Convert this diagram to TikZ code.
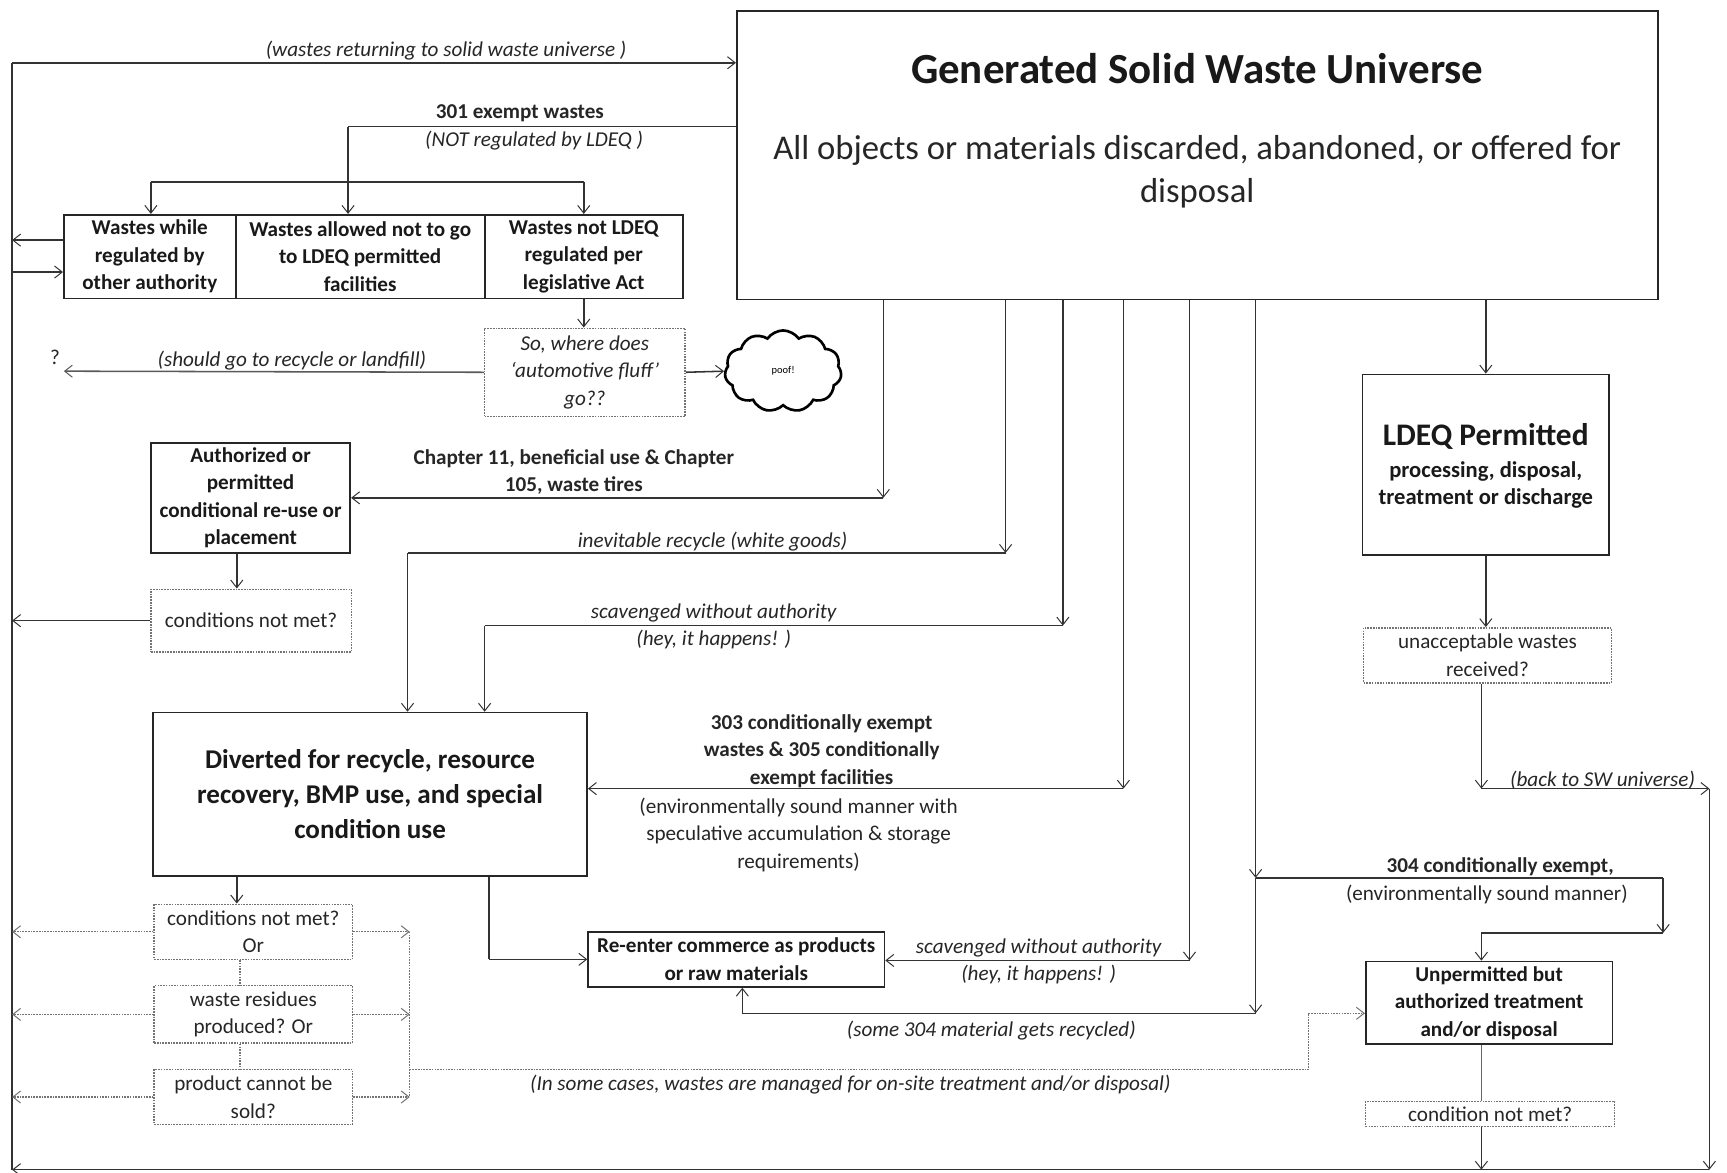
\documentclass[tikz,border=0pt]{standalone}
\usepackage{fontspec}
\setmainfont{Carlito}
\usetikzlibrary{arrows.meta,shapes.symbols}
\newcommand\myfs[2]{\fontsize{#1}{#2}\selectfont}
\begin{document}
\begin{tikzpicture}[x=1pt,y=-1pt,
  ln/.style={draw=black!80, line width=1.4pt},
  arr/.style={ln, -{Straight Barb[length=7pt,width=11pt,line width=0.9pt]}},
  dln/.style={draw=black!55, line width=1.2pt, dash pattern=on 1.5pt off 1pt},
  darr/.style={dln, -{Straight Barb[length=7pt,width=11pt,line width=0.9pt]}},
  box/.style={draw=black!85, line width=1.6pt, align=center, inner sep=0pt, text=black!90, font=\bfseries\myfs{19.2}{25}},
  dbox/.style={draw=black!55, line width=1.3pt, dash pattern=on 1.5pt off 1pt, align=center, inner sep=0pt, text=black!85, font=\myfs{19.2}{25}},
  lab/.style={align=center, inner sep=0pt, text=black!85, font=\myfs{19.2}{25}},
  ilab/.style={lab, font=\itshape\myfs{19.2}{25}},
  blab/.style={lab, font=\bfseries\myfs{19.2}{25}},
]
\useasboundingbox (0,0) rectangle (1568,1065);
\fill[white] (0,0) rectangle (1568,1065);
% nodes
\node[box, minimum width=836, minimum height=262] (univ) at (1087,141) {};
\node[lab, text=black!90, font=\bfseries\myfs{39}{44}] (t1) at (1087,62) {Generated Solid Waste Universe};
\node[lab, font=\myfs{31.5}{39}] (t2) at (1087,156) {All objects or materials discarded, abandoned, or offered for\\disposal};
\node[box, minimum width=156, minimum height=76] (w1) at (136,233) {Wastes while\\regulated by\\other authority};
\node[box, minimum width=226, minimum height=76] (w2) at (327,233) {Wastes allowed not to go\\to LDEQ permitted\\facilities};
\node[box, minimum width=180, minimum height=76] (w3) at (530,233) {Wastes not LDEQ\\regulated per\\legislative Act};
\node[dbox, font=\itshape\myfs{19.2}{25}, minimum width=182, minimum height=80] (fluff) at (531,338) {So, where does\\`automotive fluff'\\go??};
\node[cloud, cloud puffs=11, cloud puff arc=110, aspect=1.5, draw=black, line width=2.4pt, minimum width=106, minimum height=74, font=\myfs{9.5}{10}, inner sep=0pt] (poof) at (711,337) {poof!};
\node[box, minimum width=181, minimum height=100] (auth) at (227.5,452) {Authorized or\\permitted\\conditional re-use or\\placement};
\node[dbox, minimum width=182, minimum height=57] (cnm1) at (228,563.5) {conditions not met?};
\node[box, font=\bfseries\myfs{24.6}{31.5}, minimum width=394, minimum height=148] (div) at (336,721) {Diverted for recycle, resource\\recovery, BMP use, and special\\condition use};
\node[dbox, minimum width=180, minimum height=50] (cnm2) at (230,846) {conditions not met?\\Or};
\node[dbox, minimum width=180, minimum height=52] (resid) at (230,921) {waste residues\\produced? Or};
\node[dbox, minimum width=180, minimum height=50] (sold) at (230,996) {product cannot be\\sold?};
\node[box, minimum width=269, minimum height=50] (reent) at (668.5,871) {Re-enter commerce as products\\or raw materials};
\node[box, minimum width=224, minimum height=164] (ldeq) at (1349,422) {};
\node[lab, text=black!90, font=\bfseries\myfs{28.5}{32}] (ldeqt) at (1349,396) {LDEQ Permitted};
\node[lab, text=black!90, font=\bfseries\myfs{20.5}{25}] (ldeqs) at (1349,440.5) {processing, disposal,\\treatment or discharge};
\node[dbox, minimum width=225, minimum height=50] (unacc) at (1350.5,595) {unacceptable wastes\\received?};
\node[box, minimum width=224, minimum height=75] (unperm) at (1352,910.5) {Unpermitted but\\authorized treatment\\and/or disposal};
\node[dbox, minimum width=226, minimum height=23] (cond) at (1353,1011.5) {condition not met?};
% coordinates
\coordinate (TL) at (11,57);
\coordinate (BL) at (11,1062);
\coordinate (BR) at (1552,1062);
\coordinate (RT) at (1552,716);
\coordinate (k301) at (316,115);
\coordinate (kbr1) at (137,165);
\coordinate (kbr2) at (530,165);
\coordinate (kw1a) at (11,218);
\coordinate (kw1b) at (11,247);
\coordinate (kq) at (58,337);
\coordinate (k802) at (802,452);
\coordinate (k913) at (913,502);
\coordinate (k913b) at (370,502);
\coordinate (k965) at (965,568);
\coordinate (k965b) at (440,568);
\coordinate (k1020) at (1020,716);
\coordinate (k1080) at (1080,872);
\coordinate (k1140a) at (1140,797);
\coordinate (k1140b) at (1140,920);
\coordinate (k674) at (674,920);
\coordinate (k1510a) at (1510,797);
\coordinate (k1510b) at (1510,847);
\coordinate (k1345) at (1345,847);
\coordinate (kback) at (1345,716);
\coordinate (ka) at (215,520);
\coordinate (kb) at (218,900);
\coordinate (kre) at (444,871);
\coordinate (kd1) at (372,846);
\coordinate (kd2) at (372,996);
\coordinate (kd3) at (372,971);
\coordinate (kd4) at (1188,971);
\coordinate (kd5) at (1188,920);
% outer loop
\draw[arr] (TL) -- (univ.west |- TL);
\draw[ln] (BL) -- (TL);
\draw[arr] (BR) -- (BL);
% 301
\draw[ln] (univ.west |- k301) -- (k301);
\draw[arr] (k301) -- (w2.north -| k301);
\draw[ln] (kbr1) -- (kbr2);
\draw[arr] (kbr1) -- (w1.north -| kbr1);
\draw[arr] (kbr2) -- (w3.north -| kbr2);
\draw[arr] (w1.west |- kw1a) -- (kw1a);
\draw[arr] (kw1b) -- (w1.west |- kw1b);
\draw[arr] (w3.south) -- (fluff.north -| w3.south);
\draw[arr, draw=black!65] (fluff.west) -- (kq);
\draw[arr] (fluff.east) -- (poof.west);
% from universe
\draw[arr] (univ.south -| k802) -- (k802);
\draw[arr] (k802) -- (auth.east |- k802);
\draw[arr] (univ.south -| k913) -- (k913);
\draw[ln] (k913) -- (k913b);
\draw[arr] (k913b) -- (div.north -| k913b);
\draw[arr] (univ.south -| k965) -- (k965);
\draw[ln] (k965) -- (k965b);
\draw[arr] (k965b) -- (div.north -| k965b);
\draw[arr] (univ.south -| k1020) -- (k1020);
\draw[arr] (k1020) -- (div.east |- k1020);
\draw[arr] (univ.south -| k1080) -- (k1080);
\draw[arr] (k1080) -- (reent.east |- k1080);
\draw[arr] (univ.south -| k1140a) -- (k1140a);
\draw[arr] (k1140a) -- (k1140b);
\draw[ln] (k1140b) -- (k674);
\draw[arr] (k674) -- (reent.south -| k674);
\draw[ln] (k1140a) -- (k1510a);
\draw[arr] (k1510a) -- (k1510b);
\draw[ln] (k1510b) -- (k1345);
\draw[arr] (k1345) -- (unperm.north -| k1345);
\draw[arr] (univ.south -| ldeq.north) -- (ldeq.north);
\draw[arr] (ldeq.south) -- (unacc.north -| ldeq.south);
\draw[arr] (unacc.south -| kback) -- (kback);
\draw[arr] (kback) -- (RT);
\draw[arr] (RT) -- (BR);
\draw[ln, line width=0.8pt, draw=black!60] (unperm.south -| kback) -- (cond.north -| kback);
\draw[arr] (cond.south -| kback) -- (kback |- BR);
% left column
\draw[arr] (auth.south -| ka) -- (cnm1.north -| ka);
\draw[arr] (cnm1.west) -- (cnm1.west -| TL);
\draw[arr] (div.south -| ka) -- (cnm2.north -| ka);
\draw[dln] (cnm2.south -| kb) -- (resid.north -| kb);
\draw[dln] (resid.south -| kb) -- (sold.north -| kb);
\draw[ln] (div.south -| kre) -- (kre);
\draw[arr] (kre) -- (reent.west |- kre);
\draw[darr] (cnm2.west) -- (cnm2.west -| TL);
\draw[darr] (resid.west) -- (resid.west -| TL);
\draw[darr] (sold.west) -- (sold.west -| TL);
\draw[darr] (cnm2.east) -- (cnm2.east -| kd1);
\draw[darr] (resid.east) -- (resid.east -| kd1);
\draw[darr] (sold.east) -- (sold.east -| kd1);
\draw[dln] (kd1) -- (kd2);
\draw[dln] (kd3) -- (kd4) -- (kd5);
\draw[darr] (kd5) -- (unperm.west |- kd5);
% labels
\node[lab] (qm) at (50,324) {?};
\node[ilab] (lq) at (265,327) {(should go to recycle or landfill)};
\node[ilab] (l0) at (405,46) {(wastes returning to solid waste universe )};
\node[blab] (l1) at (472,103) {301 exempt wastes};
\node[ilab] (l2) at (485,128) {(NOT regulated by LDEQ )};
\node[blab] (l3) at (521,428.5) {Chapter 11, beneficial use \& Chapter\\105, waste tires};
\node[ilab] (l4) at (647,492) {inevitable recycle (white goods)};
\node[ilab] (l5) at (648,568.5) {scavenged without authority\\(hey, it happens! )};
\node[blab] (l6) at (746,682) {303 conditionally exempt\\wastes \& 305 conditionally\\exempt facilities};
\node[lab] (l7) at (725,758) {(environmentally sound manner with\\speculative accumulation \& storage\\requirements)};
\node[ilab] (l8) at (943,873) {scavenged without authority\\(hey, it happens! )};
\node[ilab] (l9) at (900,936) {(some 304 material gets recycled)};
\node[ilab] (l10) at (772,985) {(In some cases, wastes are managed for on-site treatment and/or disposal)};
\node[blab] (l11) at (1362,787) {304 conditionally exempt,};
\node[lab] (l12) at (1350,812) {(environmentally sound manner)};
\node[ilab] (l13) at (1455,708) {(back to SW universe)};
\end{tikzpicture}
\end{document}
